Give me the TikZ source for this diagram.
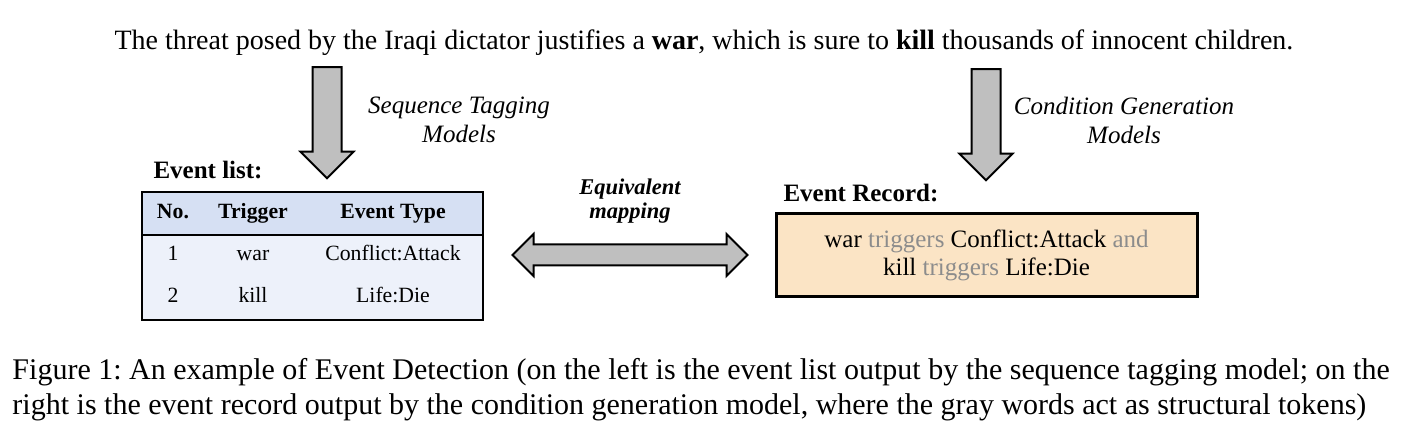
\documentclass[tikz,border=0pt]{standalone}
\usepackage{fontspec}
\setmainfont{Liberation Serif}
\usetikzlibrary{shapes.arrows, positioning}
\definecolor{arrowgray}{RGB}{191,191,191}
\definecolor{headblue}{RGB}{214,224,243}
\definecolor{bodyblue}{RGB}{237,241,250}
\definecolor{recordpeach}{RGB}{251,228,197}
\definecolor{tokengray}{RGB}{140,140,140}
\frenchspacing

\begin{document}
\begin{tikzpicture}[x=0.4pt, y=-0.4pt,
  bigarrow/.style={single arrow, draw=black, line width=0.8pt, fill=arrowgray,
    minimum height=44.4pt, inner xsep=5.4pt, inner ysep=0pt,
    single arrow head extend=4.8pt, shape border rotate=270},
  twoarrow/.style={double arrow, draw=black, line width=0.8pt, fill=arrowgray,
    minimum height=94pt, inner xsep=0pt, inner ysep=3.8pt,
    double arrow head extend=4.2pt},
  modeltext/.style={font=\fontsize{10}{11.6}\selectfont\itshape, align=center},
  listtitle/.style={font=\fontsize{10}{12}\selectfont\bfseries, anchor=west, inner sep=0pt},
  cell/.style={font=\fontsize{8.7}{10}\selectfont, inner sep=0pt, text height=6pt, text depth=1.8pt},
  headcell/.style={cell, font=\fontsize{8.7}{10}\selectfont\bfseries},
  recordbox/.style={draw=black, line width=1.2pt, fill=recordpeach, align=center,
    minimum width=168.4pt, minimum height=33.2pt, inner sep=0pt,
    font=\fontsize{10}{11.2}\selectfont},
  captionline/.style={font=\fontsize{12}{14}\selectfont, anchor=west, inner sep=0pt},
]
\useasboundingbox (0,0) rectangle (1426,444);

% Input sentence
\node[font=\fontsize{11.2}{13}\selectfont] (sent) at (704,43)
  {The threat posed by the Iraqi dictator justifies a \textbf{war}, which is sure to \textbf{kill} thousands of innocent children.};

% Model arrows
\node[bigarrow] (tagarrow) at (327,115.5) {};
\node[modeltext] (tagtext) at (459,120) {Sequence Tagging\\Models};
\node[bigarrow] (genarrow) at (986,117.5) {};
\node[modeltext] (gentext) at (1124,120) {Condition Generation\\Models};

% Event list
\node[listtitle] (listtitle) at (153,170) {Event list:};
\draw[line width=0.8pt, fill=headblue] (142,192) rectangle (483,235);
\draw[line width=0.8pt, fill=bodyblue] (142,235) rectangle (483,320);
\node[headcell] (hno) at (173,213) {No.};
\node[headcell] (htrig) at (253,213) {Trigger};
\node[headcell] (htype) at (393,213) {Event Type};
\node[cell] (no1) at (173,255) {1};
\node[cell] (trig1) at (253,255) {war};
\node[cell] (type1) at (393,255) {Conflict:Attack};
\node[cell] (no2) at (173,297) {2};
\node[cell] (trig2) at (253,297) {kill};
\node[cell] (type2) at (393,297) {Life:Die};

% Mapping
\node[font=\fontsize{9}{9.6}\selectfont\bfseries\itshape, align=center] (maptext) at (630,201) {Equivalent\\mapping};
\node[twoarrow] (maparrow) at (630,255) {};

% Event record
\node[listtitle] (rectitle) at (783,193) {Event Record:};
\node[recordbox] (record) at (986.5,255.5)
  {war \textcolor{tokengray}{triggers} Conflict:Attack \textcolor{tokengray}{and}\\
   kill \textcolor{tokengray}{triggers} Life:Die};

% Caption
\node[captionline] (cap1) at (12,372) {Figure 1: An example of Event Detection (on the left is the event list output by the sequence tagging model; on the};
\node[captionline] (cap2) at (12,407) {right is the event record output by the condition generation model, where the gray words act as structural tokens)};
\end{tikzpicture}
\end{document}
